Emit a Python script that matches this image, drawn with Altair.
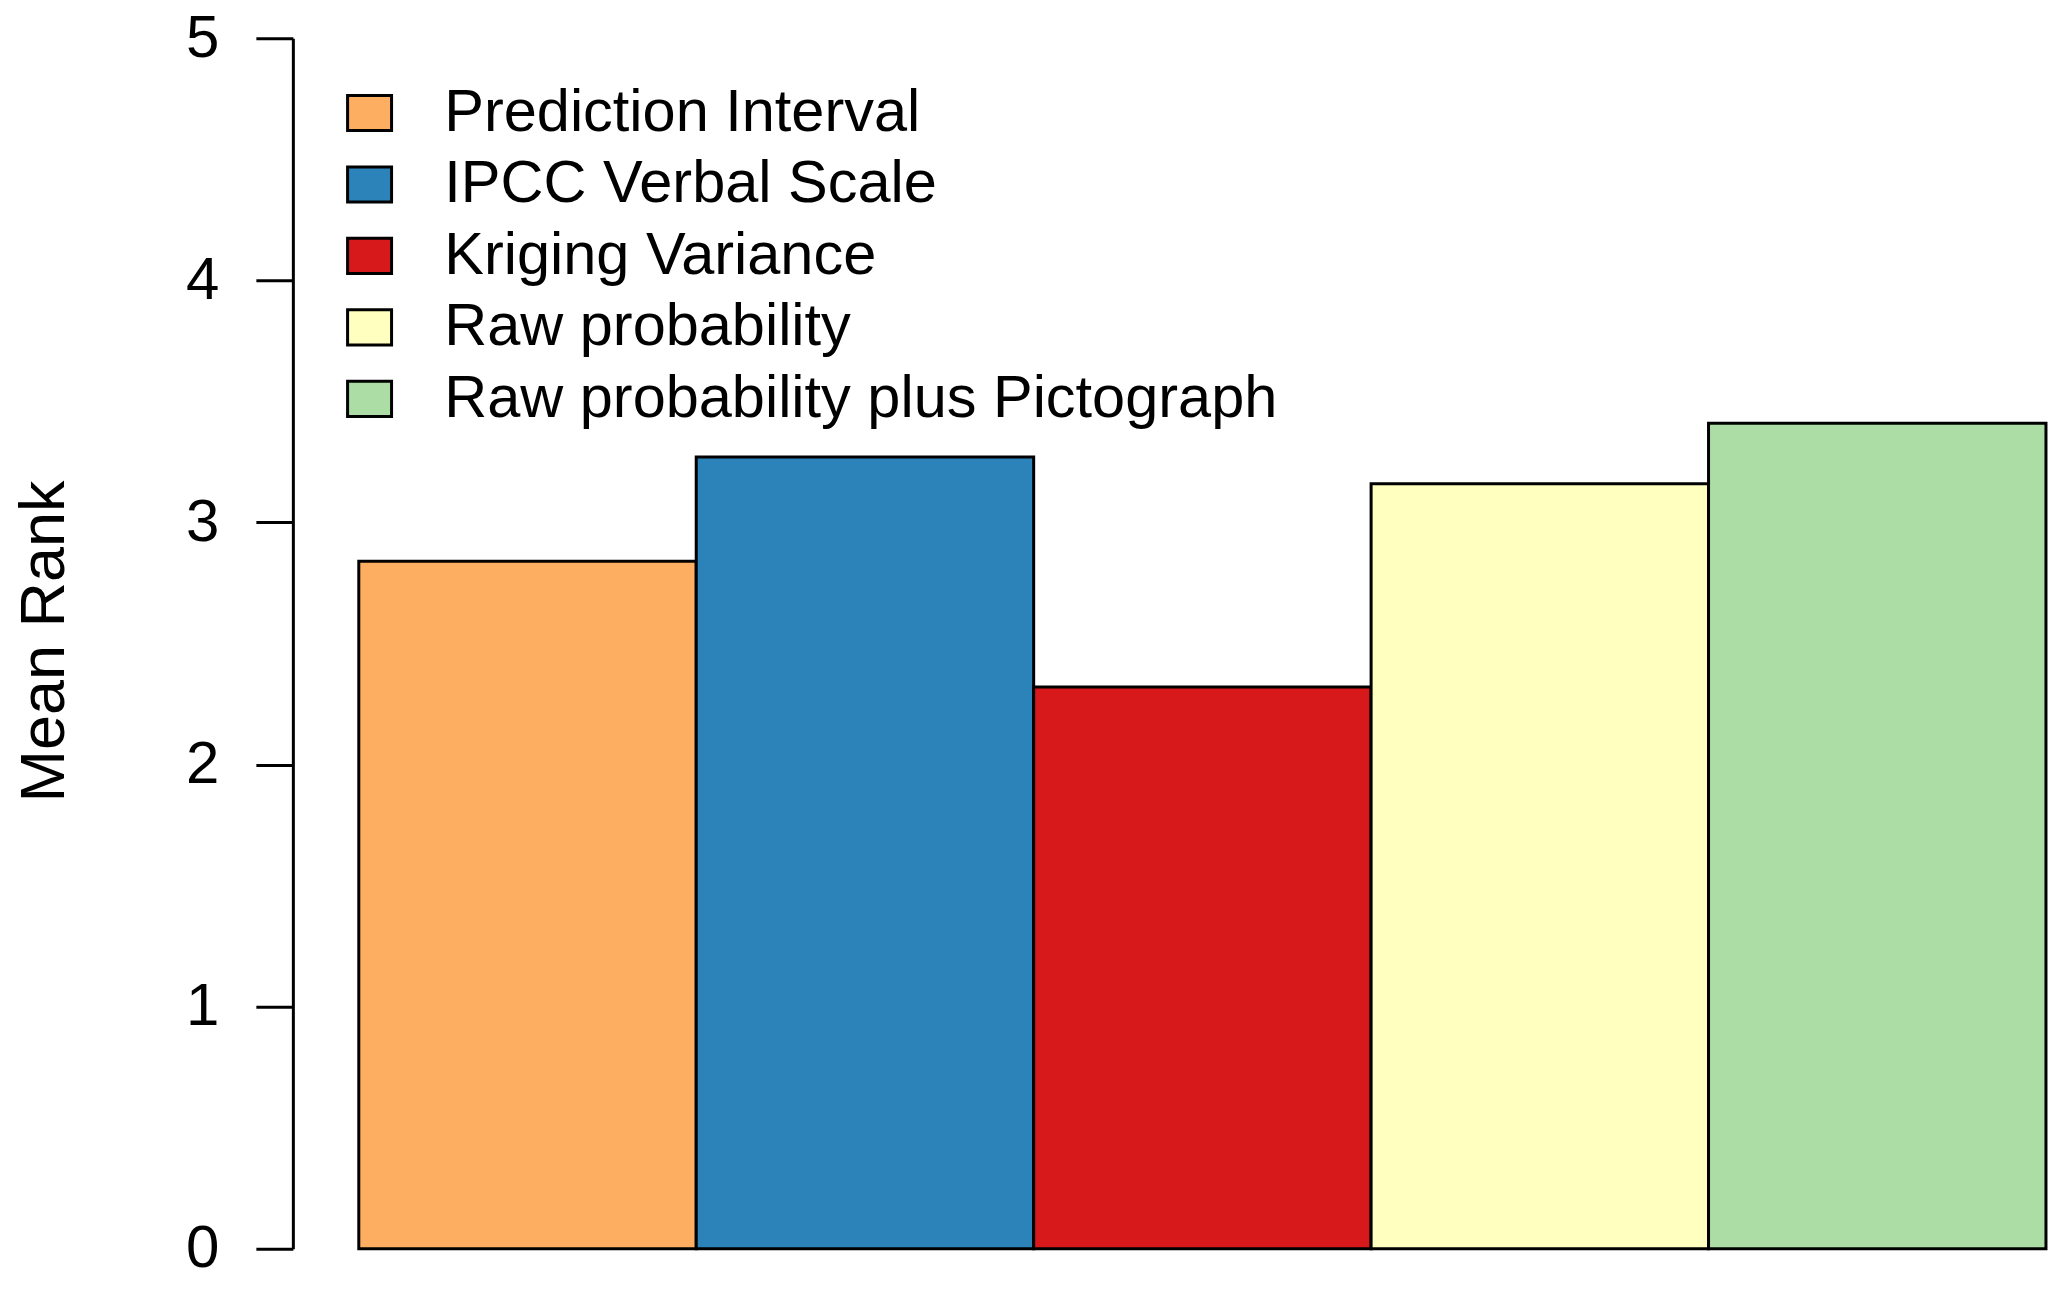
import altair as alt
import pandas as pd

categories = [
    "Prediction Interval",
    "IPCC Verbal Scale",
    "Kriging Variance",
    "Raw probability",
    "Raw probability plus Pictograph",
]
mean_rank = [2.84, 3.27, 2.32, 3.16, 3.41]
colors = ["#FDAE61", "#2B83BA", "#D7191C", "#FFFFBF", "#ABDDA4"]
y_ticks = [0, 1, 2, 3, 4, 5]

df = pd.DataFrame({"method": categories, "rank": mean_rank})

FONT = "Liberation Sans"

chart = (
    alt.Chart(df)
    .mark_bar(stroke="black", strokeWidth=3, strokeJoin="miter")
    .encode(
        x=alt.X(
            "method:N",
            sort=categories,
            axis=None,
            scale=alt.Scale(paddingInner=0, paddingOuter=0.117, align=0.835),
        ),
        y=alt.Y(
            "rank:Q",
            scale=alt.Scale(domain=[0, 5], nice=False, zero=True),
            axis=alt.Axis(
                title="Mean Rank",
                values=y_ticks,
                grid=False,
                domain=True,
                domainColor="black",
                domainWidth=3,
                ticks=True,
                tickColor="black",
                tickWidth=3,
                tickSize=37,
                labelPadding=37,
                labelFont=FONT,
                labelFontSize=60,
                labelColor="black",
                labelBaseline="middle",
                labelAlign="right",
                labelFlush=False,
                labelOverlap=False,
                titleFont=FONT,
                titleFontSize=63,
                titleFontWeight="normal",
                titleColor="black",
                titleAngle=270,
                titleAlign="center",
                titleBaseline="alphabetic",
                titleX=-229,
                titleY=603,
            ),
        ),
        fill=alt.Fill(
            "method:N",
            sort=categories,
            scale=alt.Scale(domain=categories, range=colors),
            legend=alt.Legend(
                title=None,
                orient="none",
                legendX=47,
                legendY=45,
                padding=0,
                symbolType="M-1,-0.8H1V0.8H-1Z",
                symbolSize=1936,
                symbolStrokeColor="black",
                symbolStrokeWidth=3,
                symbolOpacity=1,
                labelFont=FONT,
                labelFontSize=59.5,
                labelColor="black",
                labelOffset=45,
                labelLimit=0,
                rowPadding=10.5,
                labelBaseline="middle",
            ),
        ),
    )
    .properties(
        width=1767,
        height=1211,
        autosize=alt.AutoSizeParams(type="none"),
        padding={"left": 285, "top": 30, "right": 0, "bottom": 30},
    )
    .configure(background="white")
    .configure_view(strokeWidth=0, stroke="transparent")
)

chart.save("out.html", embed_options={"renderer": "svg", "actions": False})
